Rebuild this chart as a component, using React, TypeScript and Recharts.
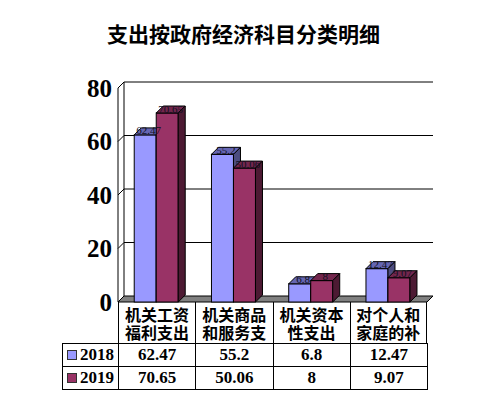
import React from 'react';
import { BarChart, Bar, XAxis, YAxis, CartesianGrid, LabelList } from 'recharts';

const categories = ['机关工资福利支出', '机关商品和服务支出', '机关资本性支出', '对个人和家庭的补助'];
const series2018 = [62.47, 55.2, 6.8, 12.47];
const series2019 = [70.65, 50.06, 8, 9.07];
const yTicks = [0, 20, 40, 60, 80];

const W = 487;
const H = 395;
const PLOT_LEFT = 118;
const PLOT_RIGHT = 427;
const PLOT_TOP = 88;
const PLOT_BOTTOM = 302;
const COL_W = (PLOT_RIGHT - PLOT_LEFT) / categories.length;
const WALL_D = 6;
const BAR_D = 7;

const BLUE = { front: '#9999FF', top: '#6666B3', side: '#4D4D80' };
const PLUM = { front: '#993366', top: '#73264D', side: '#4D1A33' };

const data = categories.map((name, i) => ({ name, y2018: series2018[i], y2019: series2019[i] }));

const serif = '"Liberation Serif", "Times New Roman", serif';
const cjk = '"Noto Sans CJK SC", sans-serif';

function Bar3D(props: any) {
  const { x, y, width, height, colors } = props;
  if (width == null || height == null) return null;
  const d = BAR_D;
  return (
    <g>
      <rect x={x} y={y} width={width} height={height} fill={colors.front} stroke="#000" strokeWidth={1} />
      <polygon
        points={`${x},${y} ${x + d},${y - d} ${x + width + d},${y - d} ${x + width},${y}`}
        fill={colors.top}
        stroke="#000"
        strokeWidth={1}
      />
      <polygon
        points={`${x + width},${y} ${x + width + d},${y - d} ${x + width + d},${y + height - d} ${x + width},${y + height}`}
        fill={colors.side}
        stroke="#000"
        strokeWidth={1}
      />
    </g>
  );
}

// back wall lines, connectors and floor for the 3D look
function gridLine(p: any) {
  const { x1, y1, x2, index } = p;
  const d = WALL_D;
  const isFloor = Math.abs(y1 - PLOT_BOTTOM) < 1;
  const isTop = Math.abs(y1 - PLOT_TOP) < 1;
  return (
    <g key={`g-${index}`}>
      {isFloor ? (
        <polygon
          points={`${x1},${y1} ${x1 + d},${y1 - d} ${x2 + d},${y1 - d} ${x2},${y1}`}
          fill="#808080"
          stroke="#000"
          strokeWidth={1}
        />
      ) : (
        <line x1={x1 + d} y1={y1 - d} x2={x2 + d} y2={y1 - d} stroke="#000" strokeWidth={1} />
      )}
      <line x1={x1} y1={y1} x2={x1 + d} y2={y1 - d} stroke="#000" strokeWidth={1} />
      {isTop && (
        <line x1={x1 + d} y1={y1 - d} x2={x1 + d} y2={PLOT_BOTTOM - d} stroke="#000" strokeWidth={1} />
      )}
    </g>
  );
}

function ValueLabel(props: any) {
  const { x, y, width, value } = props;
  return (
    <text
      x={x + width / 2 + BAR_D / 2}
      y={y - BAR_D / 2 - 1}
      textAnchor="middle"
      dominantBaseline="central"
      fontSize={11}
      fontFamily={serif}
      fill="#111122"
    >
      {value}
    </text>
  );
}

const cellBorder = '1px solid #000';

function DataTable() {
  const rowTops = [343, 366];
  const rowH = 23;
  const rows = [
    { label: '2018', color: BLUE.front, values: series2018 },
    { label: '2019', color: PLUM.front, values: series2019 },
  ];
  return (
    <>
      {categories.map((c, i) => (
        <div
          key={c}
          style={{
            position: 'absolute',
            left: PLOT_LEFT + i * COL_W,
            top: PLOT_BOTTOM,
            width: COL_W,
            height: rowTops[0] - PLOT_BOTTOM,
            boxSizing: 'border-box',
            borderLeft: cellBorder,
            borderRight: i === categories.length - 1 ? cellBorder : undefined,
            display: 'flex',
            alignItems: 'center',
            justifyContent: 'center',
          }}
        >
          <div
            style={{
              width: 66,
              height: 36,
              overflow: 'hidden',
              fontFamily: cjk,
              fontWeight: 700,
              fontSize: 16,
              lineHeight: '18px',
              textAlign: 'center',
              wordBreak: 'break-all',
            }}
          >
            {c}
          </div>
        </div>
      ))}
      {rows.map((r, ri) => (
        <React.Fragment key={r.label}>
          <div
            style={{
              position: 'absolute',
              left: 62,
              top: rowTops[ri],
              width: PLOT_LEFT - 62 + 1,
              height: rowH + 1,
              boxSizing: 'border-box',
              border: cellBorder,
              display: 'flex',
              alignItems: 'center',
              paddingLeft: 4,
              fontFamily: serif,
              fontWeight: 700,
              fontSize: 17,
            }}
          >
            <span
              style={{
                display: 'inline-block',
                width: 8,
                height: 8,
                background: r.color,
                border: '1px solid #333',
                marginRight: 3,
              }}
            />
            {r.label}
          </div>
          {r.values.map((v, i) => (
            <div
              key={i}
              style={{
                position: 'absolute',
                left: PLOT_LEFT + i * COL_W,
                top: rowTops[ri],
                width: COL_W + 1,
                height: rowH + 1,
                boxSizing: 'border-box',
                border: cellBorder,
                display: 'flex',
                alignItems: 'center',
                justifyContent: 'center',
                fontFamily: serif,
                fontWeight: 700,
                fontSize: 17,
              }}
            >
              {v}
            </div>
          ))}
        </React.Fragment>
      ))}
    </>
  );
}

export default function App() {
  return (
    <div style={{ position: 'absolute', left: 0, top: 0, width: W, height: H, background: '#fff' }}>
      <div
        style={{
          position: 'absolute',
          left: 0,
          top: 20,
          width: W,
          textAlign: 'center',
          fontFamily: cjk,
          fontWeight: 700,
          fontSize: 21,
          lineHeight: '26px',
        }}
      >
        支出按政府经济科目分类明细
      </div>
      <BarChart
        width={W}
        height={H}
        data={data}
        margin={{ top: PLOT_TOP, right: W - PLOT_RIGHT, bottom: H - PLOT_BOTTOM, left: PLOT_LEFT - 60 }}
        barCategoryGap="21%"
        barGap={0}
        style={{ position: 'absolute', left: 0, top: 0 }}
      >
        <CartesianGrid vertical={false} horizontal={gridLine} />
        <XAxis dataKey="name" hide />
        <YAxis
          width={60}
          domain={[0, 80]}
          ticks={yTicks}
          interval={0}
          tickLine={false}
          tickSize={4}
          tickMargin={2}
          axisLine={{ stroke: '#000', strokeWidth: 1 }}
          tick={{ fill: '#000', fontSize: 25, fontFamily: serif, fontWeight: 700 }}
        />
        <Bar dataKey="y2018" isAnimationActive={false} shape={(p: any) => <Bar3D {...p} colors={BLUE} />}>
          <LabelList dataKey="y2018" content={ValueLabel} />
        </Bar>
        <Bar dataKey="y2019" isAnimationActive={false} shape={(p: any) => <Bar3D {...p} colors={PLUM} />}>
          <LabelList dataKey="y2019" content={ValueLabel} />
        </Bar>
      </BarChart>
      <DataTable />
    </div>
  );
}
